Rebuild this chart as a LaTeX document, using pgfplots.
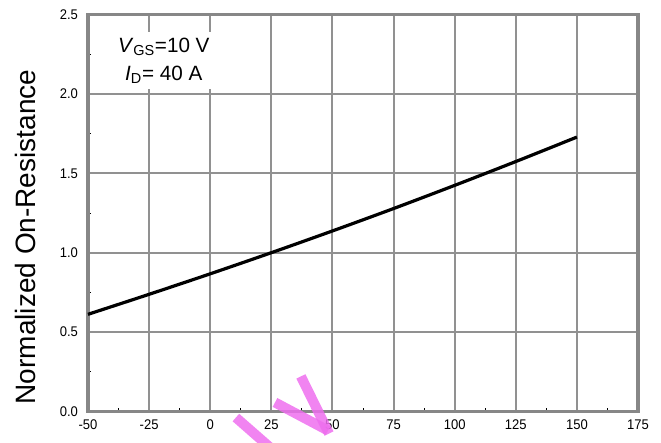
\documentclass[border=0pt]{standalone}
\usepackage{fontspec}
\setmainfont{Liberation Sans}
\newfontfamily\tickfont[FakeStretch=0.93]{Liberation Sans}
\usepackage{pgfplots}
\pgfplotsset{compat=1.18}
\definecolor{framegray}{RGB}{135,135,135}
\definecolor{gridgray}{RGB}{145,145,145}
\definecolor{wm}{RGB}{238,110,238}
\begin{document}
\begin{tikzpicture}
\begin{axis}[
  scale only axis, width=412.5pt, height=297.75pt,
  xmin=-50, xmax=175, ymin=0, ymax=2.5,
  xtick={-50,-25,0,25,50,75,100,125,150,175},
  xticklabels={-50,-25,0,25,50,75,100,125,150,175},
  ytick={0,0.5,1,1.5,2,2.5},
  yticklabels={0.0,0.5,1.0,1.5,2.0,2.5},
  minor xtick={-37.5,-12.5,12.5,37.5,62.5,87.5,112.5,137.5,162.5},
  minor ytick={0.25,0.75,1.25,1.75,2.25},
  grid=major, major grid style={gridgray, line width=1.5pt},
  axis line style={framegray, line width=2.6pt},
  major tick length=0pt, minor tick length=2.5pt, tick align=inside, tick pos=left,
  minor tick style={black, line width=0.6pt},
  tick label style={font=\tickfont\fontsize{10.5}{12}\selectfont},
  yticklabel style={xshift=-4pt},
  xticklabel style={yshift=-3pt},
  ylabel={Normalized On-Resistance},
  ylabel style={at={(axis description cs:-0.1145,0.4395)}, anchor=center, font=\fontsize{21}{24}\selectfont},
  clip=false,
]
\addplot[black, line width=2.4pt, smooth] coordinates {
 (-50,0.612) (-25,0.738) (0,0.867) (25,1.000) (50,1.137) (75,1.278)
 (100,1.424) (125,1.574) (150,1.728)};
\node[fill=white, inner xsep=1pt, inner ysep=4pt, align=center, font=\fontsize{15.5}{21}\selectfont]
  at (axis cs:-19,2.21) {\textit{V}\textsubscript{GS}=10 V\\\textit{I}\textsubscript{D}= 40 A};
\draw[wm, opacity=0.85, line width=7.5pt, line cap=butt] (axis cs:10.5,-0.038) -- (axis cs:26.9,-0.259);
\draw[wm, opacity=0.85, line width=7.5pt, line cap=butt] (axis cs:26.5,0.057) -- (axis cs:48.2,-0.12);
\draw[wm, opacity=0.85, line width=7.5pt, line cap=butt] (axis cs:37.1,0.221) -- (axis cs:48.6,-0.139);
\end{axis}
\pgfresetboundingbox
\path[use as bounding box] (-66pt,-23.625pt) rectangle (429.75pt,308.625pt);
\end{tikzpicture}
\end{document}
